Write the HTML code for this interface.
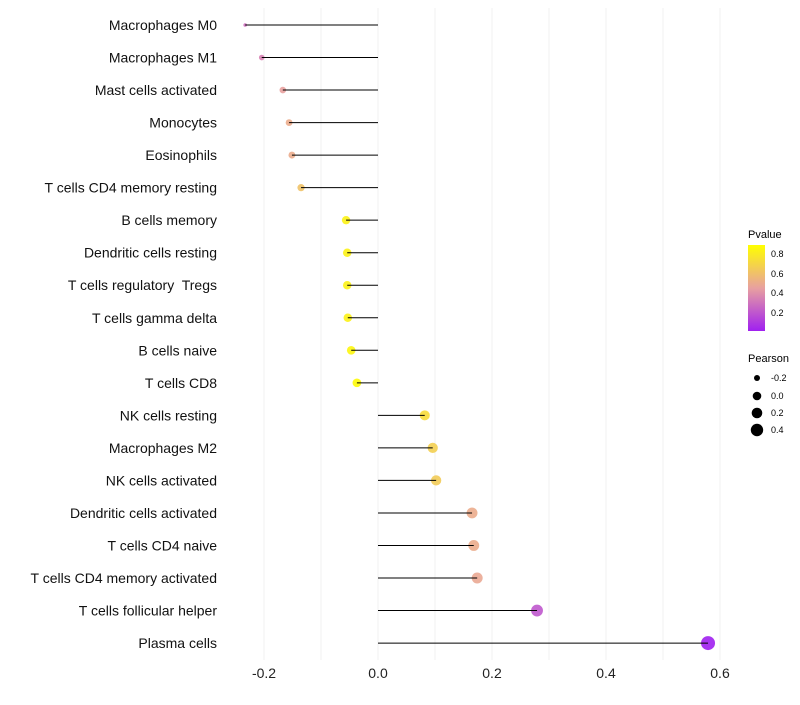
<!DOCTYPE html>
<html><head><meta charset="utf-8"><style>
body{margin:0;background:#fff;font-family:"Liberation Sans",sans-serif}
text{white-space:pre}
</style></head><body>
<svg id="chart" width="800" height="700" xmlns="http://www.w3.org/2000/svg" font-family="Liberation Sans, sans-serif">
<defs><linearGradient id="pg" x1="0" y1="1" x2="0" y2="0">
<stop offset="0" stop-color="#A020F0"/><stop offset="0.5" stop-color="#E8A0A0"/><stop offset="1" stop-color="#FFFF00"/>
</linearGradient></defs>
<g id="grid"></g><g id="marks"></g><g id="labels"></g>
<g font-size="10">
<text x="748" y="238" font-size="11">Pvalue</text>
<rect x="748" y="245" width="17" height="86" fill="url(#pg)"/>
<text x="771" y="257" font-size="9">0.8</text><text x="771" y="277" font-size="9">0.6</text>
<text x="771" y="296" font-size="9">0.4</text><text x="771" y="316" font-size="9">0.2</text>
<text x="748" y="362" font-size="11">Pearson</text>
<circle cx="757" cy="378" r="3" fill="#000"/><text x="771" y="381" font-size="9">-0.2</text>
<circle cx="757" cy="396" r="4.3" fill="#000"/><text x="771" y="399" font-size="9">0.0</text>
<circle cx="757" cy="413" r="5.3" fill="#000"/><text x="771" y="416" font-size="9">0.2</text>
<circle cx="757" cy="430" r="6.2" fill="#000"/><text x="771" y="433" font-size="9">0.4</text>
</g>
</svg>
<script>
const categories=["Macrophages M0","Macrophages M1","Mast cells activated","Monocytes","Eosinophils","T cells CD4 memory resting","B cells memory","Dendritic cells resting","T cells regulatory  Tregs","T cells gamma delta","B cells naive","T cells CD8","NK cells resting","Macrophages M2","NK cells activated","Dendritic cells activated","T cells CD4 naive","T cells CD4 memory activated","T cells follicular helper","Plasma cells"];
const pearson=[-0.233,-0.204,-0.167,-0.156,-0.151,-0.135,-0.056,-0.054,-0.054,-0.053,-0.047,-0.037,0.082,0.096,0.102,0.165,0.168,0.174,0.279,0.579];
const pvalues=[0.28,0.34,0.45,0.5,0.5,0.6,0.82,0.82,0.82,0.82,0.84,0.86,0.72,0.66,0.64,0.5,0.5,0.48,0.2,0.01];
const xTicks=[-0.2,0,0.2,0.4,0.6];
const NS="http://www.w3.org/2000/svg";
const x=v=>378+v*570;
const y=i=>25+i*32.53;
const r=v=>1.8+5.2*Math.sqrt(Math.max(0,(v+0.233)/0.812));
function lerp(a,b,t){return a.map((c,k)=>Math.round(c+(b[k]-c)*t));}
function col(p){const t=Math.min(1,Math.max(0,(p-0.01)/0.87));const P=[160,32,240],M=[232,160,160],Y=[255,255,0];
const c=t<0.5?lerp(P,M,t/0.5):lerp(M,Y,(t-0.5)/0.5);return `rgb(${c})`;}
function mk(tag,at,parent){const e=document.createElementNS(NS,tag);for(const k in at)e.setAttribute(k,at[k]);document.getElementById(parent).appendChild(e);return e;}
for(let v=-0.2;v<=0.61;v+=0.1){const g=mk("line",{x1:x(v),x2:x(v),y1:8,y2:660,stroke:"#f0f0f0","stroke-width":1},"grid");

}
xTicks.forEach(t=>{const e=mk("text",{x:x(t),y:678,"text-anchor":"middle","font-size":14,fill:"#222"},"labels");e.textContent=t===0?"0.0":t.toFixed(1);

});
categories.forEach((c,i)=>{
const t=mk("text",{x:217,y:y(i)+5,"text-anchor":"end","font-size":14,fill:"#111"},"labels");t.textContent=c;


const d=mk("circle",{cx:x(pearson[i]),cy:y(i),r:r(pearson[i]),fill:col(pvalues[i]),"fill-opacity":0.9},"marks");


const l=mk("line",{x1:x(0),x2:x(pearson[i]),y1:y(i),y2:y(i),stroke:"#000","stroke-width":1},"marks");


});
</script>
</body></html>
